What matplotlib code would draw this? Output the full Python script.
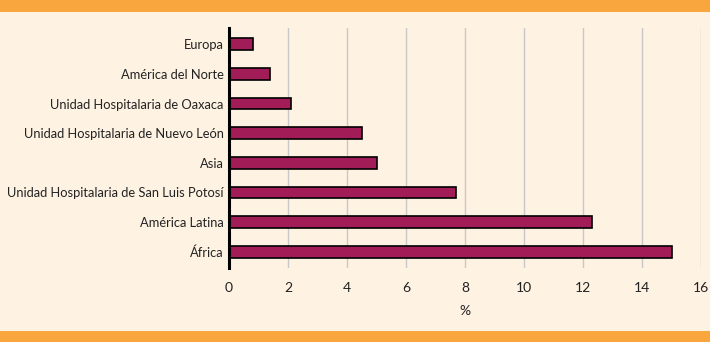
import numpy as np
import matplotlib.pyplot as plt
from matplotlib.patches import Rectangle

categorias = ["Europa", "América del Norte", "Unidad Hospitalaria de Oaxaca",
              "Unidad Hospitalaria de Nuevo León", "Asia",
              "Unidad Hospitalaria de San Luis Potosí", "América Latina", "África"]
valores = [0.8, 1.4, 2.1, 4.5, 5.0, 7.7, 12.3, 15.0]
xticks = [0, 2, 4, 6, 8, 10, 12, 14, 16]

bg = "#FEF2E2"
orange = "#F9A63F"
bar_color = "#A21C58"

plt.rcParams['font.family'] = ['Lato', 'DejaVu Sans']

fig = plt.figure(figsize=(7.1, 3.42), dpi=100, facecolor=bg)
fig.patches.append(Rectangle((0, 1 - 12/342), 1, 12/342, transform=fig.transFigure,
                             facecolor=orange, edgecolor="none"))
fig.patches.append(Rectangle((0, 0), 1, 11/342, transform=fig.transFigure,
                             facecolor=orange, edgecolor="none"))

ax = fig.add_axes([229/710, 74/342, 472/710, 240/342])
ax.set_facecolor(bg)
y = np.arange(len(categorias))
ax.barh(y, valores, height=0.4, color=bar_color, edgecolor="black", linewidth=1.2, zorder=3)
ax.set_yticks(y)
ax.set_yticklabels(categorias, fontsize=9.3, color="#222222")
ax.set_ylim(len(categorias) - 0.45, -0.55)
ax.set_xlim(0, 16)
ax.set_xticks(xticks)
ax.set_xticklabels([str(t) for t in xticks], fontsize=10, color="#222222")
ax.grid(axis="x", color="#C8C8C8", linewidth=1, zorder=0)
ax.tick_params(axis="y", length=0, pad=4)
ax.tick_params(axis="x", length=0, pad=10)
for s in ["top", "right", "bottom"]:
    ax.spines[s].set_visible(False)
ax.spines["left"].set_linewidth(2.2)
ax.spines["left"].set_zorder(4)
ax.set_xlabel("%", fontsize=10, color="#222222", labelpad=8)

plt.savefig("out.png", dpi=100, facecolor=bg)
